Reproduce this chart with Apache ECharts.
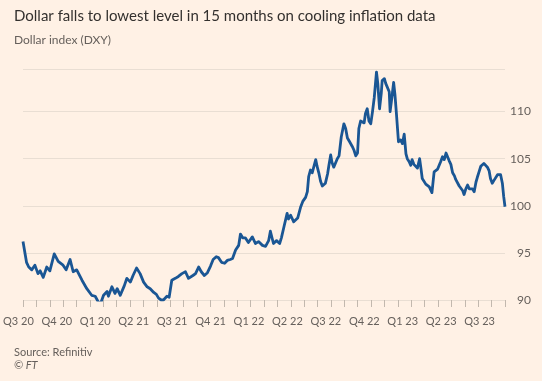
<!DOCTYPE html>
<html>
<head>
<meta charset="utf-8">
<script src="https://cdn.jsdelivr.net/npm/echarts@6/dist/echarts.min.js"></script>
<style>
html,body{margin:0;padding:0;background:#fff1e5;}
#chart{width:542px;height:381px;}
</style>
</head>
<body>
<div id="chart"></div>
<script>
const titleText = 'Dollar falls to lowest level in 15 months on cooling inflation data';
const subtitleText = 'Dollar index (DXY)';
const sourceText = 'Source: Refinitiv';
const creditText = '© FT';
const quarterLabels = ['Q3 20','Q4 20','Q1 20','Q2 21','Q3 21','Q4 21','Q1 22','Q2 22','Q3 22','Q4 22','Q1 23','Q2 23','Q3 23'];
const yTicks = [90, 95, 100, 105, 110];
const dates = [
'2020-07-13','2020-07-21','2020-07-26','2020-08-02','2020-08-09','2020-08-16','2020-08-21','2020-08-28','2020-09-05','2020-09-12',
'2020-09-22','2020-10-01','2020-10-12','2020-10-19','2020-10-28','2020-11-04','2020-11-12','2020-11-24','2020-12-05','2020-12-16',
'2020-12-24','2020-12-31','2021-01-05','2021-01-12','2021-01-20','2021-01-23','2021-01-31','2021-02-07','2021-02-12','2021-02-19',
'2021-02-28','2021-03-06','2021-03-14','2021-03-20','2021-03-28','2021-04-05','2021-04-13','2021-04-21','2021-04-28','2021-05-06',
'2021-05-12','2021-05-17','2021-05-23','2021-05-28','2021-06-05','2021-06-10','2021-06-16','2021-06-24','2021-07-01','2021-07-09',
'2021-07-17','2021-07-24','2021-07-28','2021-08-03','2021-08-09','2021-08-16','2021-08-22','2021-08-29','2021-09-05','2021-09-12',
'2021-09-18','2021-09-25','2021-09-30','2021-10-07','2021-10-14','2021-10-20','2021-10-27','2021-11-01','2021-11-08','2021-11-15',
'2021-11-19','2021-11-24','2021-11-30','2021-12-07','2021-12-16','2021-12-23','2021-12-30','2022-01-08','2022-01-15','2022-01-22',
'2022-01-26','2022-02-02','2022-02-09','2022-02-16','2022-02-20','2022-02-26','2022-03-05','2022-03-08','2022-03-13','2022-03-20',
'2022-03-24','2022-03-29','2022-04-05','2022-04-10','2022-04-16','2022-04-20','2022-04-23','2022-04-27','2022-05-01','2022-05-09',
'2022-05-12','2022-05-16','2022-05-20','2022-05-24','2022-05-31','2022-06-05','2022-06-08','2022-06-12','2022-06-15','2022-06-19',
'2022-06-27','2022-07-01','2022-07-06','2022-07-12','2022-07-16','2022-07-20','2022-07-25','2022-07-31','2022-08-04','2022-08-08',
'2022-08-12','2022-08-15','2022-08-19','2022-08-27','2022-08-30','2022-09-03','2022-09-07','2022-09-11','2022-09-15','2022-09-19',
'2022-09-24','2022-09-27','2022-10-01','2022-10-05','2022-10-07','2022-10-12','2022-10-15','2022-10-18','2022-10-23','2022-10-25',
'2022-10-29','2022-11-02','2022-11-05','2022-11-08','2022-11-13','2022-11-18','2022-11-22','2022-11-26','2022-11-30','2022-12-03',
'2022-12-07','2022-12-11','2022-12-14','2022-12-18','2022-12-22','2022-12-26','2022-12-31','2023-01-03','2023-01-06','2023-01-10',
'2023-01-14','2023-01-22','2023-01-28','2023-02-02','2023-02-06','2023-02-10','2023-02-14','2023-02-17','2023-02-21','2023-02-25',
'2023-03-01','2023-03-04','2023-03-08','2023-03-12','2023-03-16','2023-03-20','2023-03-23','2023-03-27','2023-03-31','2023-04-04',
'2023-04-08','2023-04-11','2023-04-15','2023-04-19','2023-04-23','2023-04-26','2023-04-30','2023-05-04','2023-05-08','2023-05-11',
'2023-05-15','2023-05-19','2023-05-22','2023-05-26','2023-05-30','2023-06-03','2023-06-07','2023-06-10','2023-06-14','2023-06-18',
'2023-06-22','2023-06-26','2023-06-29','2023-07-03','2023-07-07','2023-07-10','2023-07-13'
];
const dxy = [
96.2,94.0,93.5,93.2,93.7,92.8,93.1,92.4,93.5,93.1,
94.9,94.1,93.7,93.2,94.3,93.0,93.2,92.1,91.2,90.5,
90.4,89.8,89.6,90.5,90.9,90.4,91.4,90.7,91.2,90.5,
91.5,92.3,91.9,92.6,93.4,92.8,91.9,91.4,91.2,90.8,
90.6,90.2,90.0,90.0,90.4,90.3,92.1,92.3,92.5,92.8,
93.0,92.3,92.1,92.6,92.8,93.5,93.0,92.6,92.9,93.6,
94.3,94.6,94.5,94.0,93.9,94.2,94.3,94.4,95.3,95.8,
97.0,96.6,96.6,96.1,96.7,96.0,96.2,95.8,95.7,96.3,
97.3,96.0,96.3,96.0,96.6,97.8,99.2,98.6,99.0,98.3,
98.2,98.7,99.9,100.5,100.9,101.5,103.1,103.8,103.5,104.9,
104.2,103.5,102.6,102.1,102.4,103.4,104.3,105.4,104.6,104.1,
105.0,105.3,107.3,108.7,108.2,107.2,106.8,106.3,105.9,105.3,
105.6,108.2,109.0,108.8,109.8,110.3,109.0,108.7,110.0,111.5,
114.2,113.0,110.3,112.0,113.3,113.5,113.0,112.8,112.1,110.0,
111.5,113.1,111.8,110.0,106.8,107.0,106.6,107.6,105.5,105.0,
104.7,104.3,104.9,104.4,104.2,104.0,105.0,104.0,102.9,102.8,
102.3,102.0,101.4,103.6,103.5,103.9,104.0,104.7,105.2,104.9,
105.6,105.4,104.8,104.4,103.5,103.2,102.8,102.6,102.1,102.0,
101.6,101.2,101.8,102.2,101.8,101.9,101.8,101.5,102.5,103.0,
103.6,104.2,104.2,104.5,104.3,104.1,103.7,102.9,102.4,102.7,
102.8,103.3,103.5,103.3,102.4,101.0,99.9
];

const seriesData = dates.map((d, i) => [d, dxy[i]]);
const chart = echarts.init(document.getElementById('chart'), null, {renderer: 'canvas'});
const FONT = 'Lato';
const gridTop = 300 - (114.5 - 90) * 9.42;

chart.setOption({
  backgroundColor: '#fff1e5',
  animation: false,
  title: [
    {text: titleText, left: 9, top: 4, textStyle: {fontFamily: FONT, fontSize: 15, fontWeight: 'normal', color: '#33302e'}},
    {text: subtitleText, left: 9, top: 29, textStyle: {fontFamily: FONT, fontSize: 12, fontWeight: 'normal', color: '#66605c'}},
    {text: sourceText, left: 9, top: 342, textStyle: {fontFamily: FONT, fontSize: 11, fontWeight: 'normal', color: '#66605c'}},
    {text: creditText, left: 9, top: 355, textStyle: {fontFamily: FONT, fontSize: 11, fontWeight: 'normal', fontStyle: 'italic', color: '#66605c'}}
  ],
  grid: [
    {left: 23, right: 37, top: gridTop, bottom: 81, containLabel: false},
    {left: 16.4, width: 463.2, top: gridTop, bottom: 81, containLabel: false}
  ],
  xAxis: [
    {type: 'time', gridIndex: 0, position: 'bottom', min: '2020-07-13', max: '2023-07-13',
     axisLine: {show: false}, axisTick: {show: false}, axisLabel: {show: false}, splitLine: {show: false}},
    {type: 'value', gridIndex: 1, position: 'bottom', min: 0, max: 12, interval: 1,
     axisLine: {show: false}, axisTick: {show: false}, splitLine: {show: false},
     axisLabel: {show: true, margin: 16, color: '#66605c', fontFamily: FONT, fontSize: 11,
       formatter: v => quarterLabels[v]}},
    {type: 'value', gridIndex: 0, position: 'bottom', offset: 0, min: 0, max: 36, interval: 1,
     axisLine: {show: false}, splitLine: {show: false}, axisLabel: {show: false},
     axisTick: {show: true, length: 7, lineStyle: {color: '#c2b8ae', width: 1}}}
  ],
  yAxis: [
    {type: 'value', gridIndex: 0, position: 'right', min: 90, max: 114.5, interval: 5,
     axisLine: {show: false}, axisTick: {show: false},
     splitLine: {show: true, lineStyle: {color: '#e9ded3', width: 1}},
     axisLabel: {show: true, align: 'right', margin: 26, color: '#66605c', fontFamily: FONT, fontSize: 12,
       formatter: v => (yTicks.indexOf(v) >= 0 ? String(v) : '')}},
    {type: 'value', gridIndex: 1, min: 0, max: 1, show: false}
  ],
  series: [
    {type: 'line', xAxisIndex: 0, yAxisIndex: 0, data: seriesData, showSymbol: false, symbol: 'none',
     lineStyle: {color: '#1a5694', width: 2.8, join: 'round'}}
  ]
});
</script>
</body>
</html>
